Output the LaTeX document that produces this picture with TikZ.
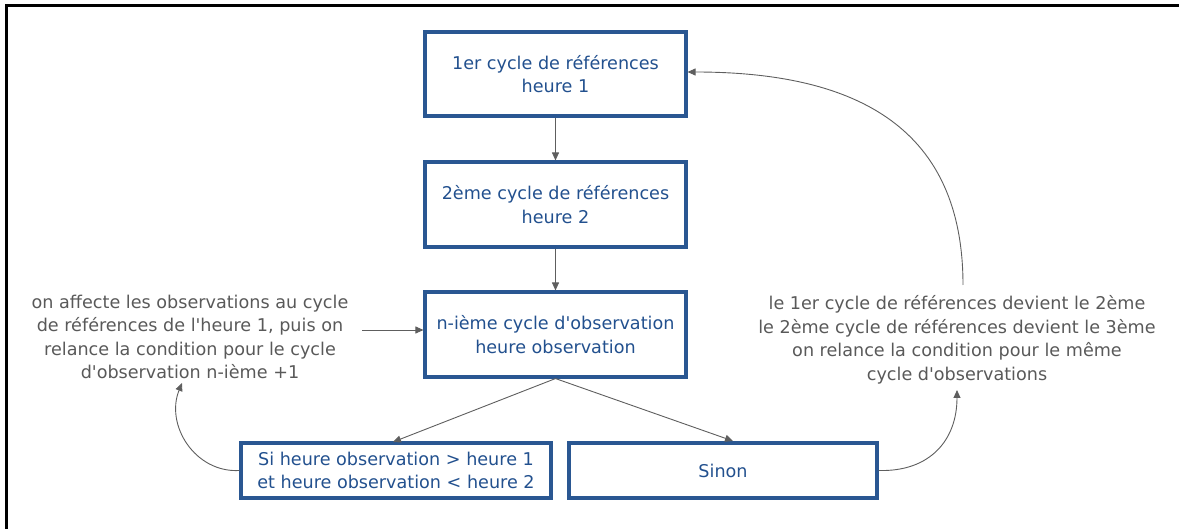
\documentclass[tikz,border=0pt]{standalone}
\usepackage{fontspec}
\setmainfont{DejaVu Sans}[Ligatures=TeXOff]
\usetikzlibrary{arrows.meta}
\definecolor{boxblue}{HTML}{2A5792}
\definecolor{txtblue}{HTML}{22508E}
\definecolor{txtgray}{HTML}{595959}
\definecolor{arrgray}{HTML}{5E5E5E}
\tikzset{
  flowbox/.style={draw=boxblue, line width=3.1pt, text=txtblue, align=center,
    font=\fontsize{17.6}{23.5}\selectfont, inner sep=0pt},
  note/.style={text=txtgray, align=center, font=\fontsize{17.6}{23.5}\selectfont, inner sep=0pt},
  conn/.style={draw=arrgray, line width=0.9pt, -{Triangle[length=8pt,width=7pt]}},
}
\begin{document}
\begin{tikzpicture}[x=1pt,y=-1pt]
\useasboundingbox (0,0) rectangle (1179,529);
\draw[line width=3pt] (6,529) -- (6,6) -- (1179,6);

\node[flowbox, minimum width=261pt, minimum height=84pt] (b1) at (555.5,74) {1er cycle de références\\heure 1};
\node[flowbox, minimum width=261pt, minimum height=85pt] (b2) at (555.5,204.5) {2ème cycle de références\\heure 2};
\node[flowbox, minimum width=261pt, minimum height=85pt] (b3) at (555.5,334.5) {n-ième cycle d'observation\\heure observation};
\node[flowbox, minimum width=310pt, minimum height=55pt] (b4) at (396,470.5) {Si heure observation > heure 1\\et heure observation < heure 2};
\node[flowbox, minimum width=308pt, minimum height=55pt] (b5) at (723,470.5) {Sinon};

\node[note] (lt) at (190,337) {on affecte les observations au cycle\\de références de l'heure 1, puis on\\relance la condition pour le cycle\\d'observation n-ième +1};
\node[note] (rt) at (957,340) {le 1er cycle de références devient le 2ème\\le 2ème cycle de références devient le 3ème\\on relance la condition pour le même\\cycle d'observations};

\coordinate (ls) at (362,330);
\coordinate (lb) at (182,383);
\coordinate (rb) at (957,390);
\coordinate (rtop) at (963,285);
\coordinate (b4t) at (393,442);
\coordinate (b5t) at (733,441);

\draw[conn] (b1.south) -- (b2.north);
\draw[conn] (b2.south) -- (b3.north);
\draw[conn] (ls) -- (ls -| b3.west);
\draw[conn] (b3.south) -- (b4t);
\draw[conn] (b3.south) -- (b5t);
\draw[conn] (b4.west) .. controls (195,473) and (165,425) .. (lb);
\draw[conn] (b5.east) .. controls (930,472) and (957,440) .. (rb);
\draw[conn] (rtop) .. controls (963,130) and (860,72) .. (b1.east |- 0,72);
\end{tikzpicture}
\end{document}
